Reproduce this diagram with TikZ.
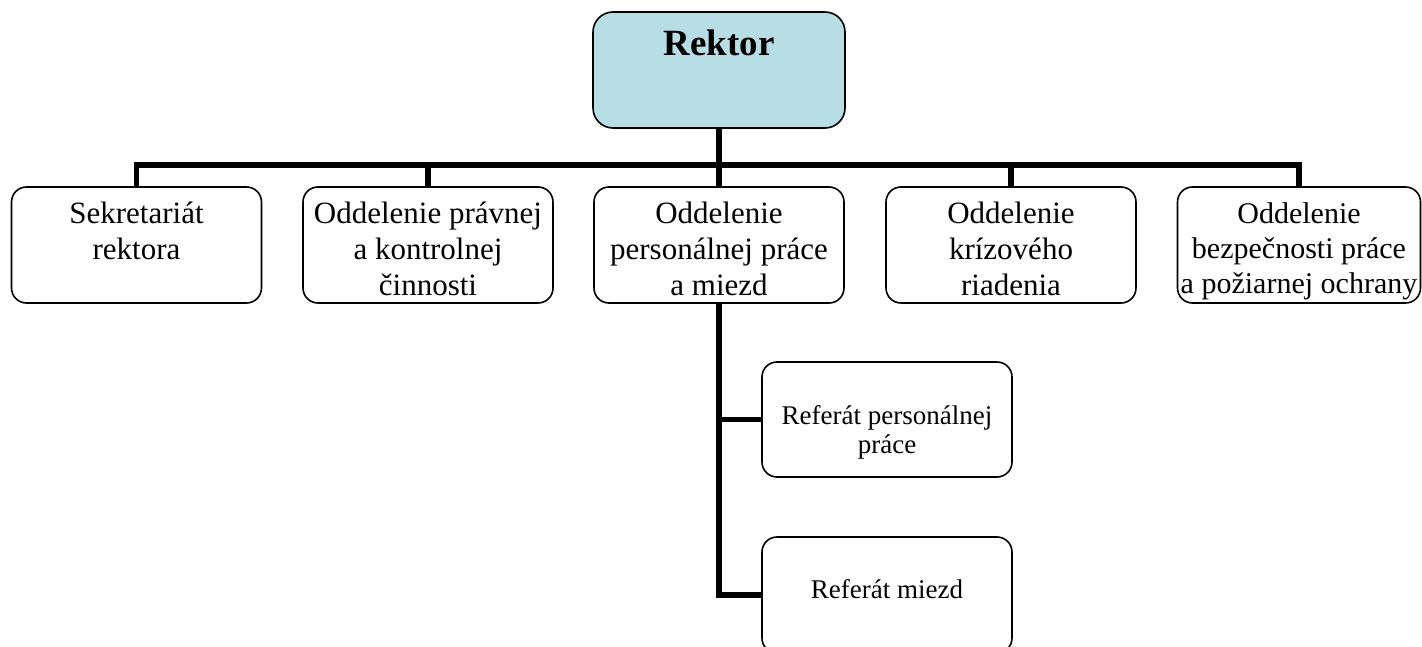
\documentclass[tikz,border=0pt]{standalone}
\usepackage{fontspec}
\setmainfont{Liberation Serif}
\usetikzlibrary{positioning}

\definecolor{rektorfill}{RGB}{183,222,228}
\tikzset{
	unitbox/.style={draw, rounded corners=15pt, line width=1.6pt, minimum width=250pt, minimum height=116pt, inner sep=0pt},
	unittext/.style={align=center, inner sep=0pt, anchor=north, font=\fontsize{31}{36}\selectfont},
	subtext/.style={unittext, font=\fontsize{27}{29}\selectfont},
	bus/.style={line width=5.5pt}
}

\begin{document}
\begin{tikzpicture}[x=1pt,y=-1pt]
	\useasboundingbox (0,0) rectangle (1422,647);
	
	%rektor
	\node[unitbox, fill=rektorfill, minimum width=252pt, rounded corners=20pt] (rektor) at (719,70) {};
	\node[unittext, font=\fontsize{37}{40}\selectfont\bfseries] (rektorT) at (719,30) {Rektor};
	
	%oddelenia
	\node[unitbox] (sekr)  at (136.5,245) {};
	\node[unitbox] (pravo) at (428,245)   {};
	\node[unitbox] (pers)  at (719,245)   {};
	\node[unitbox] (kriz)  at (1011,245)  {};
	\node[unitbox, minimum width=243pt] (bozp) at (1299,245) {};
	
	\node[unittext] (sekrT)  at (136.5,202) {Sekretariát\\rektora};
	\node[unittext] (pravoT) at (428,202)   {Oddelenie právnej\\a kontrolnej\\činnosti};
	\node[unittext] (persT)  at (719,202)   {Oddelenie\\personálnej práce\\a miezd};
	\node[unittext] (krizT)  at (1011,202)  {Oddelenie\\krízového\\riadenia};
	\node[unittext, font=\fontsize{30}{35}\selectfont] (bozpT) at (1299,202) {Oddelenie\\bezpečnosti práce\\a požiarnej ochrany};
	
	%referaty
	\node[unitbox, minimum height=115pt] (refpers) at (887,419.5) {};
	\node[unitbox] (refmzd) at (887,595) {};
	
	\node[subtext] (refpersT) at (887,405) {Referát personálnej\\práce};
	\node[subtext] (refmzdT)  at (887,579) {Referát miezd};
	
	%lines
	\coordinate (bus) at (719,165);
	\draw[bus] (rektor.south) -- (bus);
	\foreach \u in {sekr,pravo,pers,kriz,bozp}
		\draw[bus] (bus) -| (\u.north);
	\draw[bus] (pers.south) |- (refpers.west);
	\draw[bus] (pers.south) |- (refmzd.west);
	
\end{tikzpicture}
\end{document}
